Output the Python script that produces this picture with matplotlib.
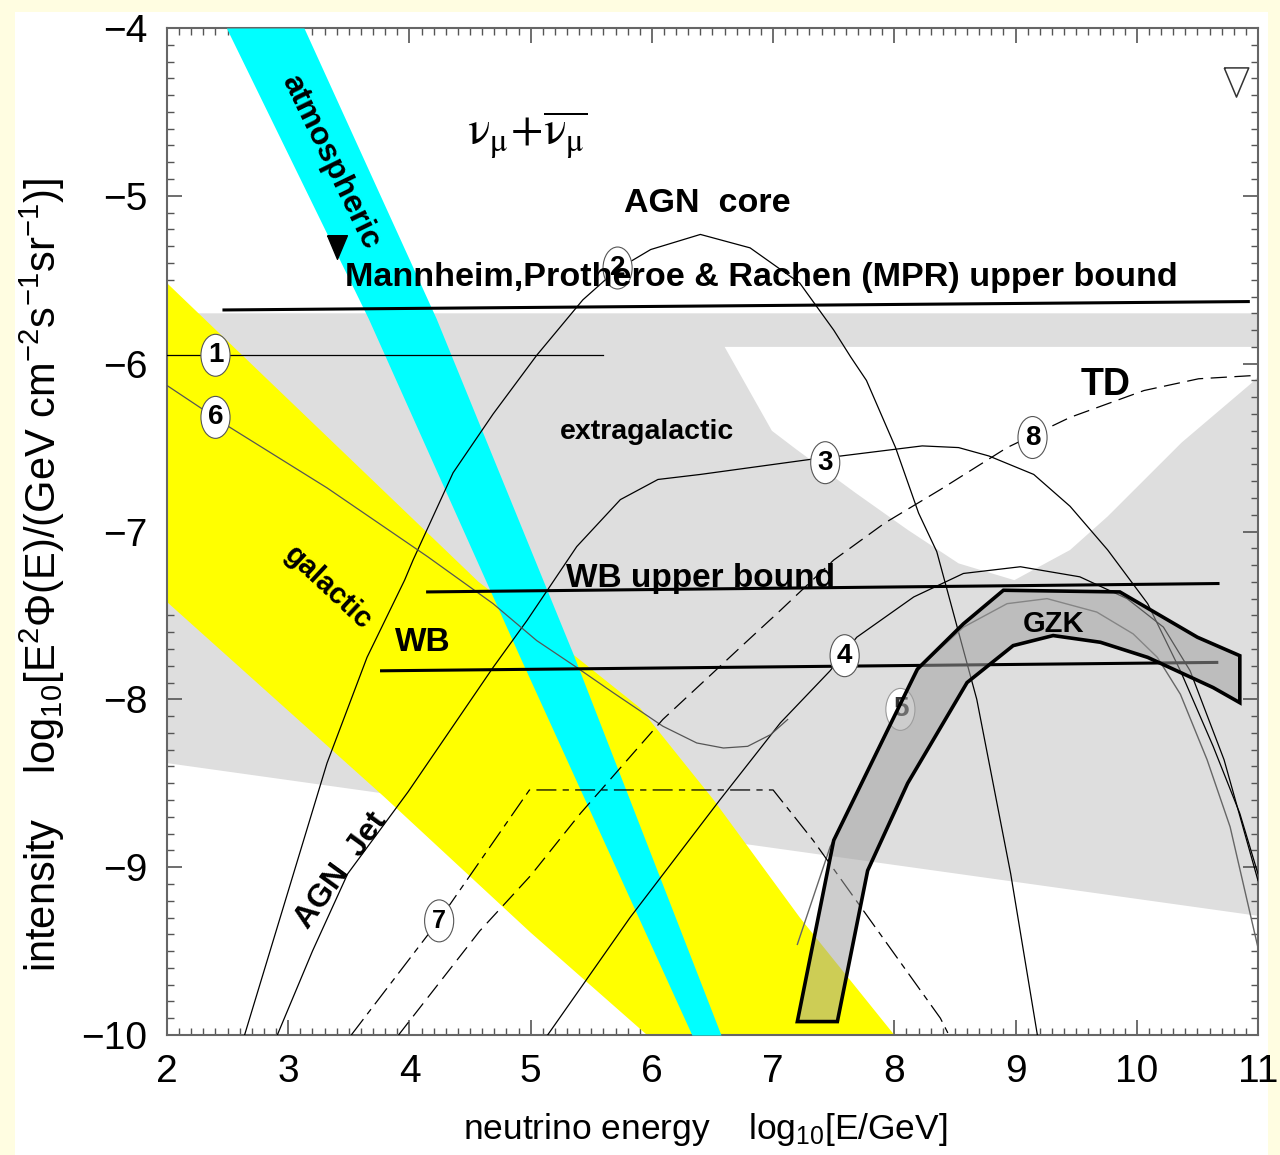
import numpy as np
import matplotlib.pyplot as plt
from matplotlib.patches import Polygon, Ellipse, Rectangle
from matplotlib.ticker import MultipleLocator

plt.rcParams['font.family'] = ['Liberation Sans', 'DejaVu Sans']
plt.rcParams['mathtext.fontset'] = 'custom'
plt.rcParams['mathtext.rm'] = 'Liberation Sans'
plt.rcParams['mathtext.it'] = 'Liberation Sans:italic'
plt.rcParams['mathtext.bf'] = 'Liberation Sans:bold'
plt.rcParams['mathtext.sf'] = 'Liberation Sans'
NARROW = ['Liberation Sans Narrow', 'Liberation Sans', 'DejaVu Sans']

# ---- shaded regions (log10 E [GeV], log10 flux) ----
extra_x = [2.0, 11.0, 11.0, 2.0]
extra_y = [-5.70, -5.70, -9.29, -8.38]

td_x = [6.60, 6.99, 7.19, 7.68, 8.11, 8.53, 8.99, 9.45, 9.76, 10.37, 10.94, 11.0, 11.0]
td_y = [-5.90, -6.40, -6.51, -6.77, -6.99, -7.19, -7.29, -7.11, -6.91, -6.47, -6.12, -6.08, -5.90]

gal_up_x = [2.0, 4.57, 5.38, 5.90, 6.51, 7.22, 8.0]
gal_up_y = [-5.52, -7.30, -7.75, -8.05, -8.60, -9.30, -10.0]
gal_lo_x = [2.0, 3.79, 5.0, 5.96]
gal_lo_y = [-7.42, -8.58, -9.39, -10.0]

atm_y = [-4.0, -5.73, -7.73, -10.0]
atm_left = [2.49, 3.66, 4.90, 6.33]
atm_right = [3.13, 4.22, 5.35, 6.57]

gzk_x = [7.20, 7.50, 8.19, 8.57, 8.90, 9.86, 10.50, 10.85, 10.85,
         10.63, 10.09, 9.70, 9.31, 8.98, 8.60, 8.11, 7.78, 7.53]
gzk_y = [-9.92, -8.84, -7.82, -7.55, -7.35, -7.36, -7.63, -7.74, -8.02,
         -7.93, -7.75, -7.66, -7.62, -7.68, -7.90, -8.50, -9.02, -9.92]

# ---- model curves ----
c1_x = [2.0, 5.60]
c1_y = [-5.95, -5.95]
c2_x = [2.64, 2.98, 3.32, 3.65, 3.96, 4.03, 4.36, 4.69, 5.05, 5.43, 5.71, 5.99, 6.40, 6.81,
        7.22, 7.50, 7.64, 7.77, 8.01, 8.20, 8.35, 8.68, 8.96, 9.18]
c2_y = [-10.0, -9.19, -8.38, -7.75, -7.29, -7.17, -6.65, -6.30, -5.95, -5.62, -5.44, -5.32, -5.23, -5.31,
        -5.52, -5.80, -5.96, -6.10, -6.50, -6.89, -7.12, -8.00, -9.04, -10.0]
c3_x = [2.91, 3.20, 3.49, 3.99, 4.69, 4.97, 5.38, 5.74, 6.05, 6.40, 7.31, 7.56, 8.23, 8.53, 8.78,
        9.15, 9.45, 9.76, 10.09, 10.36, 10.63, 10.85, 11.0]
c3_y = [-10.0, -9.50, -9.04, -8.55, -7.81, -7.53, -7.09, -6.81, -6.69, -6.66, -6.57, -6.55, -6.49, -6.50, -6.55,
        -6.66, -6.85, -7.11, -7.43, -7.83, -8.28, -8.68, -9.04]
c4_x = [5.14, 5.82, 6.56, 7.06, 7.47, 7.69, 8.16, 8.57, 9.04, 9.53, 9.92, 10.22, 10.44, 10.72, 11.0]
c4_y = [-10.0, -9.30, -8.60, -8.14, -7.83, -7.63, -7.39, -7.25, -7.21, -7.27, -7.40, -7.57, -7.83, -8.36, -9.08]
c5_x = [7.20, 7.47, 7.74, 7.99, 8.21, 8.57, 8.93, 9.26, 9.67, 9.97, 10.17, 10.36, 10.58, 10.77, 11.0]
c5_y = [-9.46, -8.88, -8.48, -8.11, -7.81, -7.57, -7.43, -7.40, -7.48, -7.61, -7.75, -7.97, -8.36, -8.76, -9.48]
c6_x = [2.0, 2.52, 3.32, 4.15, 4.69, 5.05, 5.38, 5.68, 6.09, 6.37, 6.59, 6.79, 6.98, 7.12]
c6_y = [-6.13, -6.38, -6.74, -7.15, -7.43, -7.65, -7.81, -7.96, -8.16, -8.26, -8.29, -8.28, -8.21, -8.12]
c7_x = [3.52, 4.24, 4.99, 7.0, 7.33, 8.38, 8.45]
c7_y = [-10.0, -9.32, -8.54, -8.54, -8.84, -9.90, -10.0]
c8_x = [3.91, 4.58, 5.0, 5.41, 6.09, 6.79, 7.06, 7.50, 7.92, 8.38, 8.93, 9.45, 10.06, 10.51, 10.98]
c8_y = [-10.0, -9.38, -9.05, -8.68, -8.12, -7.65, -7.47, -7.17, -6.95, -6.75, -6.50, -6.32, -6.16, -6.09, -6.07]

mpr_x, mpr_y = [2.47, 10.92], [-5.68, -5.63]
wbu_x, wbu_y = [4.15, 10.67], [-7.36, -7.31]
wb_x, wb_y = [3.77, 10.66], [-7.83, -7.78]

lab_txt = ['1', '6', '2', '3', '4', '5', '7', '8']
lab_x = [2.40, 2.40, 5.717, 7.43, 7.59, 8.05, 4.245, 9.14]
lab_y = [-5.95, -6.32, -5.43, -6.59, -7.74, -8.06, -9.32, -6.44]

fig = plt.figure(figsize=(12.8, 11.55), dpi=100, facecolor='#fffde1')
fig.patches.append(Rectangle((15 / 1280, 0), 1253 / 1280, 1143 / 1155, transform=fig.transFigure,
                             facecolor='white', edgecolor='none', zorder=-1))
ax = fig.add_axes([167 / 1280, 1 - 1035 / 1155, 1091 / 1280, 1007 / 1155])
ax.set_xlim(2, 11)
ax.set_ylim(-10, -4)

ax.fill(extra_x, extra_y, color='#dedede', lw=0, zorder=1)
ax.fill(td_x, td_y, color='white', lw=0, zorder=1.5)
ax.fill(gal_up_x + gal_lo_x[::-1], gal_up_y + gal_lo_y[::-1], color='#ffff00', lw=0, zorder=2)
ax.fill_betweenx(atm_y, atm_left, atm_right, color='#00ffff', lw=0, zorder=3)

thin = dict(color='black', lw=0.9, zorder=4)
ax.plot(c1_x, c1_y, **thin)
ax.plot(c2_x, c2_y, **thin)
ax.plot(c3_x, c3_y, **thin)
ax.plot(c4_x, c4_y, **thin)
ax.plot(c5_x, c5_y, color='#666666', lw=1.0, zorder=4)
ax.plot(c6_x, c6_y, color='#555555', lw=0.9, zorder=4)
ax.plot(c7_x, c7_y, color='black', lw=0.9, dashes=(16, 5, 5, 5), zorder=4)
ax.plot(c8_x, c8_y, color='black', lw=0.9, dashes=(13, 6), zorder=4)

thick = dict(color='black', lw=2.2, zorder=4.2)
ax.plot(mpr_x, mpr_y, **thick)
ax.plot(wbu_x, wbu_y, **thick)
ax.plot(wb_x, wb_y, **thick)

ax.add_patch(Polygon(np.column_stack([gzk_x, gzk_y]), closed=True,
                     facecolor=(0.63, 0.63, 0.63, 0.53), edgecolor='black', lw=2.6, zorder=5))

for t, x, y in zip(lab_txt, lab_x, lab_y):
    faded = t == '5'
    z = 4.5 if faded else 6
    ax.add_patch(Ellipse((x, y), 0.24, 0.25, facecolor='white',
                         edgecolor='#999999' if faded else '#555555', lw=0.8, zorder=z))
    ax.text(x, y, t, ha='center', va='center', fontsize=20 if t != '7' else 18,
            fontweight='bold', family=NARROW,
            color='#333333' if faded else 'black', zorder=z + 0.1)

# markers
tri = [(-0.42, 0.5), (0.42, 0.5), (0, -0.5), (-0.42, 0.5)]
ax.plot(3.40, -5.305, marker=tri, ms=17, color='black', zorder=7)
ax.plot(10.82, -4.32, marker=tri, ms=21, mfc='white', mec='#333333', mew=1.1, zorder=7)

bold = dict(fontweight='bold', ha='center', va='center', zorder=8)
ax.text(6.455, -5.043, 'AGN  core', fontsize=24.5, **bold)
ax.text(6.90, -5.484, 'Mannheim,Protheroe & Rachen (MPR) upper bound', fontsize=24.6, **bold)
ax.text(5.96, -6.41, 'extragalactic', fontsize=20.5, **bold)
ax.text(9.74, -6.13, 'TD', fontsize=27, **bold)
ax.text(6.40, -7.28, 'WB upper bound', fontsize=24, **bold)
ax.text(4.11, -7.66, 'WB', fontsize=24, **bold)
ax.text(9.31, -7.55, 'GZK', fontsize=21, **bold)
ax.text(3.33, -7.337, 'galactic', fontsize=21, rotation=-43, rotation_mode='anchor', **bold)
ax.text(3.345, -4.80, 'atmospheric', fontsize=23, rotation=-64, rotation_mode='anchor', **bold)
ax.text(3.436, -9.02, 'AGN  Jet', fontsize=23, rotation=54, rotation_mode='anchor', **bold)
ax.text(4.97, -4.64, r'$\mathrm{ν_μ\!+\!\overline{ν_μ}}$', fontsize=34,
        math_fontfamily='stix', ha='center', va='center', zorder=8)

ax.set_xticks(range(2, 12))
ax.set_yticks(range(-10, -3))
ax.xaxis.set_minor_locator(MultipleLocator(0.1))
ax.yaxis.set_minor_locator(MultipleLocator(0.1))
ax.tick_params(which='both', direction='in', top=True, right=True, color='#555555')
ax.tick_params(which='major', length=11, width=1.2, labelsize=28, pad=14)
ax.tick_params(which='minor', length=5, width=1.0)
for lbl in ax.get_xticklabels() + ax.get_yticklabels():
    lbl.set_fontfamily(NARROW)
for s in ax.spines.values():
    s.set_color('#666666')
    s.set_linewidth(1.5)

fig.text(42 / 1280, 1 - 575 / 1155,
         r'intensity    log$_{10}$[E$^{2}\Phi$(E)/(GeV cm$^{-2}$s$^{-1}$sr$^{-1}$)]',
         rotation=90, ha='center', va='center', fontsize=30, family=NARROW)
fig.text(705 / 1280, 1 - 1130 / 1155, r'neutrino energy    log$_{10}$[E/GeV]',
         ha='center', va='center', fontsize=25.5, family=NARROW)

fig.savefig('out.png', dpi=100, facecolor=fig.get_facecolor())
